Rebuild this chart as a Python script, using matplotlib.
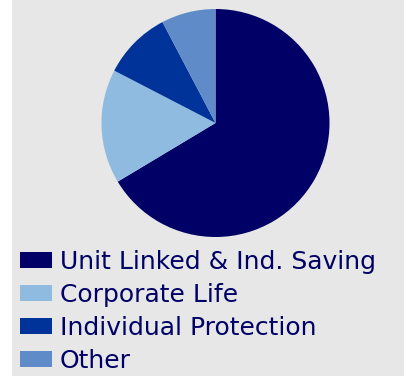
import matplotlib.pyplot as plt
from matplotlib.patches import Rectangle

# Business mix (share of total, %)
segments = ["Unit Linked & Ind. Saving", "Corporate Life", "Individual Protection", "Other"]
shares = [66.4, 16.2, 9.7, 7.7]
colors = ["#000066", "#8fbbe0", "#003399", "#5f8cc8"]

plt.rcParams["font.family"] = ["DejaVu Sans"]

W, H = 406, 376
fig = plt.figure(figsize=(W / 100, H / 100), dpi=100, facecolor="white")

# grey panel with a thin white margin on the left
fig.patches.append(Rectangle((12 / W, 0), 392 / W, 1, transform=fig.transFigure,
                             facecolor="#e6e7e6", edgecolor="none", zorder=-5))

cx, cy, r = 215.5, 123, 114
ax = fig.add_axes([(cx - r) / W, (H - cy - r) / H, 2 * r / W, 2 * r / H])
ax.set_facecolor("none")
wedges, _ = ax.pie(shares, colors=colors, startangle=90, counterclock=False,
                   radius=1, wedgeprops=dict(linewidth=0))
ax.set_xlim(-1, 1)
ax.set_ylim(-1, 1)
ax.set_aspect("equal")
ax.axis("off")

leg = fig.legend(wedges, segments, loc="upper left", bbox_to_anchor=(20 / W, 1 - 250 / H),
                 frameon=False, fontsize=18, handlelength=1.28, handleheight=0.64,
                 handletextpad=0.32, labelspacing=0.36, borderpad=0, borderaxespad=0,
                 labelcolor="#000066")

fig.savefig("out.png", dpi=100, facecolor=fig.get_facecolor())
